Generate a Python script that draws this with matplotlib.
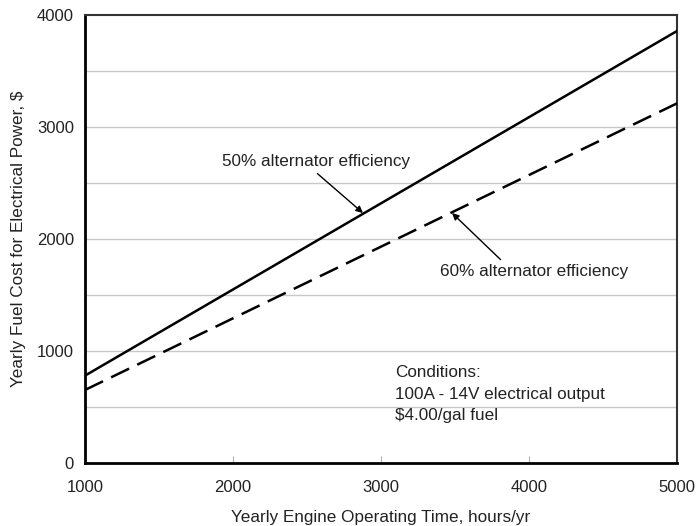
import numpy as np
import matplotlib.pyplot as plt

plt.rcParams['font.family'] = ['Liberation Sans', 'DejaVu Sans']

# yearly engine operating time, hours/yr
hours = [1000, 5000]
# yearly fuel cost, $
cost_50 = [780, 3857]
cost_60 = [652, 3211]

xticks = [1000, 2000, 3000, 4000, 5000]
yticks = [0, 1000, 2000, 3000, 4000]

fig = plt.figure(figsize=(6.96, 5.26), dpi=100)
ax = fig.add_axes([85 / 696, 1 - 463 / 526, (677 - 85) / 696, (463 - 15) / 526])

for y in np.arange(500, 4000, 500):
    ax.axhline(y, color='#c8c8c8', lw=1.0, zorder=1)

ax.plot(hours, cost_50, color='black', lw=1.8, zorder=3)
ax.plot(hours, cost_60, color='black', lw=1.8, ls=(0, (8, 3.6)), zorder=3)

ax.set_xlim(1000, 5000)
ax.set_ylim(0, 4000)
ax.set_xticks(xticks)
ax.set_yticks(yticks)
ax.tick_params(axis='x', direction='in', length=5, color='#b0b0b0', labelsize=12, pad=12, labelcolor='#222222')
ax.tick_params(axis='y', length=0, labelsize=12, pad=8, labelcolor='#222222')

ax.spines['left'].set_linewidth(2.0)
ax.spines['bottom'].set_linewidth(2.0)
ax.spines['top'].set_linewidth(1.5)
ax.spines['right'].set_linewidth(1.5)
ax.spines['top'].set_color('#333333')
ax.spines['right'].set_color('#333333')

ax.set_xlabel('Yearly Engine Operating Time, hours/yr', fontsize=12.3, color='#222222', labelpad=11)
ax.set_ylabel('Yearly Fuel Cost for Electrical Power, $', fontsize=12.3, color='#222222', labelpad=8)

ax.annotate('50% alternator efficiency', xy=(2878, 2232), xytext=(2560, 2625),
            fontsize=12.3, color='#222222', ha='center', va='bottom',
            arrowprops=dict(arrowstyle='-|>', color='black', lw=1.0, mutation_scale=10,
                            shrinkA=2, shrinkB=0, relpos=(0.48, 0)))
ax.annotate('60% alternator efficiency', xy=(3480, 2232), xytext=(4032, 1640),
            fontsize=12.3, color='#222222', ha='center', va='bottom',
            arrowprops=dict(arrowstyle='-|>', color='black', lw=1.0, mutation_scale=10,
                            shrinkA=2, shrinkB=0, relpos=(0.35, 1)))

ax.text(3095, 875, 'Conditions:\n100A - 14V electrical output\n$4.00/gal fuel',
        fontsize=12.3, color='#222222', ha='left', va='top', linespacing=1.55)

fig.savefig('out.png', dpi=100)
